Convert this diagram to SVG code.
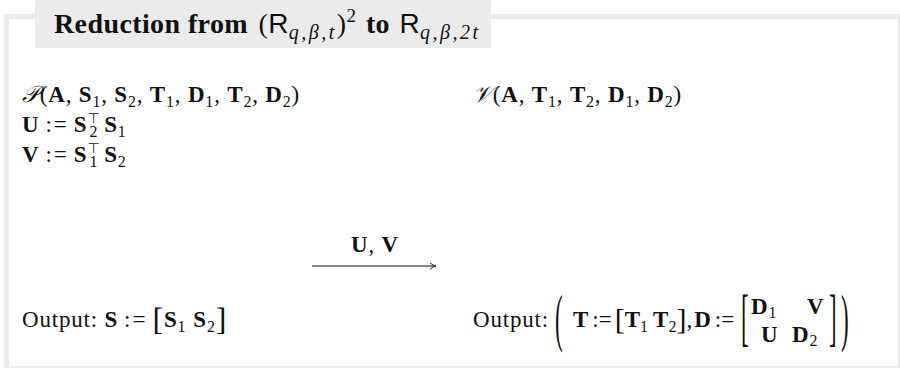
<svg xmlns="http://www.w3.org/2000/svg" width="900" height="368" viewBox="0 0 900 368">
<defs>
<style>
.frame{fill:#ebebeb}
.m{font-family:"Liberation Serif","DejaVu Serif",serif;font-size:23px;fill:#111;letter-spacing:0.8px}
.b{font-weight:bold}
.i{font-style:italic}
.s{font-size:16px}
.ce{letter-spacing:2px}
.sans{font-family:"Liberation Sans","DejaVu Sans",sans-serif;font-weight:normal}
.sym{font-family:"DejaVu Sans",sans-serif}
.title{font-family:"Liberation Serif","DejaVu Serif",serif;font-size:28px;fill:#111;letter-spacing:0.4px}
.sub{font-size:20px;font-style:italic;letter-spacing:2.5px}
.conn{stroke:#111;stroke-width:1;fill:none}
</style>
<marker id="arr" markerWidth="8" markerHeight="8" refX="7" refY="4" orient="auto" markerUnits="userSpaceOnUse">
<path d="M1,1 Q4,3.2 7,4 Q4,4.8 1,7" fill="none" stroke="#111" stroke-width="0.9"/>
</marker>
</defs>
<rect width="900" height="368" fill="#fff"/>
<g id="frame">
<rect class="frame" x="4" y="14" width="5" height="354"/>
<rect class="frame" x="4" y="14" width="896" height="5"/>
<rect class="frame" x="898" y="14" width="2" height="354"/>
<rect class="frame" x="4" y="366" width="896" height="2"/>
<rect class="frame" x="35" y="0" width="456" height="48"/>
</g>
<g id="title">
<text class="title" x="54" y="33"><tspan class="b">Reduction from </tspan><tspan dx="3">(</tspan><tspan class="sans">R</tspan><tspan class="sub" dy="6">q,β,t</tspan><tspan dy="-6">)</tspan><tspan font-size="19" dy="-11">2</tspan><tspan class="b" dx="2" dy="11"> to </tspan><tspan class="sans" dx="2">R</tspan><tspan class="sub" dy="6">q,β,2t</tspan></text>
</g>
<g id="prover">
<text class="m" x="22" y="102"><tspan class="i">𝒫</tspan>(<tspan class="b">A</tspan>, <tspan class="b">S</tspan><tspan class="s" dy="5">1</tspan><tspan dy="-5">, </tspan><tspan class="b">S</tspan><tspan class="s" dy="5">2</tspan><tspan dy="-5">, </tspan><tspan class="b">T</tspan><tspan class="s" dy="5">1</tspan><tspan dy="-5">, </tspan><tspan class="b">D</tspan><tspan class="s" dy="5">1</tspan><tspan dy="-5">, </tspan><tspan class="b">T</tspan><tspan class="s" dy="5">2</tspan><tspan dy="-5">, </tspan><tspan class="b">D</tspan><tspan class="s" dy="5">2</tspan><tspan dy="-5">)</tspan></text>
<text class="m" x="22" y="132"><tspan class="b">U</tspan><tspan class="ce" dx="6">:=</tspan><tspan class="b" dx="5">S</tspan><tspan class="sym" font-size="14" dy="-9">⊤</tspan><tspan class="s" dx="-11" dy="14">2</tspan><tspan class="b" dx="6" dy="-5">S</tspan><tspan class="s" dy="5">1</tspan></text>
<text class="m" x="22" y="162"><tspan class="b">V</tspan><tspan class="ce" dx="6">:=</tspan><tspan class="b" dx="5">S</tspan><tspan class="sym" font-size="14" dy="-9">⊤</tspan><tspan class="s" dx="-11" dy="14">1</tspan><tspan class="b" dx="6" dy="-5">S</tspan><tspan class="s" dy="5">2</tspan></text>
<text class="m" x="22" y="327">Output: <tspan class="b">S</tspan><tspan class="ce" dx="6">:=</tspan><tspan font-size="32" dx="5" dy="3">[</tspan><tspan class="b" dy="-3">S</tspan><tspan class="s" dy="5">1</tspan><tspan class="b" dx="7" dy="-5">S</tspan><tspan class="s" dy="5">2</tspan><tspan font-size="32" dy="-2">]</tspan></text>
</g>
<g id="verifier">
<text class="m" x="473" y="102"><tspan class="i">𝒱</tspan>(<tspan class="b">A</tspan>, <tspan class="b">T</tspan><tspan class="s" dy="5">1</tspan><tspan dy="-5">, </tspan><tspan class="b">T</tspan><tspan class="s" dy="5">2</tspan><tspan dy="-5">, </tspan><tspan class="b">D</tspan><tspan class="s" dy="5">1</tspan><tspan dy="-5">, </tspan><tspan class="b">D</tspan><tspan class="s" dy="5">2</tspan><tspan dy="-5">)</tspan></text>
<text class="m" x="473" y="327">Output:</text>
<text class="m" transform="translate(555,339) scale(1,2.8)" font-size="26" style="letter-spacing:0">(</text>
<text class="m" x="573" y="327" style="letter-spacing:0"><tspan class="b">T</tspan><tspan dx="4">:=</tspan><tspan font-size="30" dx="3" dy="2">[</tspan><tspan class="b" dy="-2">T</tspan><tspan class="s" dy="5">1</tspan><tspan class="b" dx="5" dy="-5">T</tspan><tspan class="s" dy="5">2</tspan><tspan font-size="30" dy="-3">]</tspan><tspan dy="-2">,</tspan><tspan class="b" dx="2">D</tspan><tspan dx="4">:=</tspan></text>
<text class="m" transform="translate(741,338) scale(1,2.8)" font-size="26" style="letter-spacing:0">[</text>
<text class="m" x="751" y="314"><tspan class="b">D</tspan><tspan class="s" dy="4">1</tspan></text>
<text class="m b" x="807" y="314">V</text>
<text class="m b" x="761" y="342">U</text>
<text class="m" x="792" y="342"><tspan class="b">D</tspan><tspan class="s" dy="4">2</tspan></text>
<text class="m" transform="translate(829,338) scale(1,2.8)" font-size="26" style="letter-spacing:0">]</text>
<text class="m" transform="translate(841,339) scale(1,2.8)" font-size="26" style="letter-spacing:0">)</text>
</g>
<g id="connectors">
<line class="conn" x1="312" y1="266" x2="436" y2="266" marker-end="url(#arr)"/>
<text class="m" x="375" y="252" text-anchor="middle"><tspan class="b">U</tspan>, <tspan class="b">V</tspan></text>
</g>
</svg>
